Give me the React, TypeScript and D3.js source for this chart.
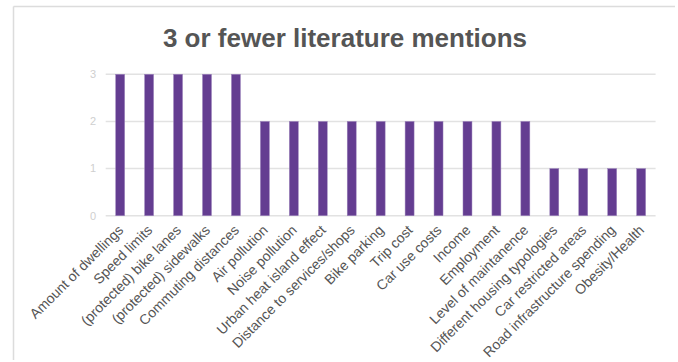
import React from "react";
import * as d3 from "d3";

const categories = [
  "Amount of dwellings",
  "Speed limits",
  "(protected) bike lanes",
  "(protected) sidewalks",
  "Commuting distances",
  "Air pollution",
  "Noise pollution",
  "Urban heat island effect",
  "Distance to services/shops",
  "Bike parking",
  "Trip cost",
  "Car use costs",
  "Income",
  "Employment",
  "Level of maintanence",
  "Different housing typologies",
  "Car restricted areas",
  "Road infrastructure spending",
  "Obesity/Health",
];
const values = [3, 3, 3, 3, 3, 2, 2, 2, 2, 2, 2, 2, 2, 2, 2, 1, 1, 1, 1];
const yTicks = [0, 1, 2, 3];
const title = "3 or fewer literature mentions";

const W = 678;
const H = 362;
const plot = { left: 105.7, right: 655.6, top: 74.3, bottom: 215.7 };

export default function App() {
  const x = d3
    .scaleBand<string>()
    .domain(categories)
    .range([plot.left, plot.right])
    .paddingInner(0.69)
    .paddingOuter(0.345);
  const y = d3.scaleLinear().domain([0, 3]).range([plot.bottom, plot.top]);
  const font = "'Liberation Sans', Arial, Helvetica, sans-serif";
  return (
    <svg
      width={W}
      height={H}
      style={{ position: "absolute", left: 0, top: 0, background: "#fff" }}
      fontFamily={font}
    >
      <rect x={0} y={0} width={W} height={H} fill="#fff" />
      <line x1={13.5} x2={675} y1={6.5} y2={6.5} stroke="#dcdcdc" strokeWidth={1.5} />
      <line x1={13.5} x2={13.5} y1={6.5} y2={360} stroke="#dcdcdc" strokeWidth={1.5} />
      <text
        x={345}
        y={47}
        textAnchor="middle"
        fontSize={26}
        fontWeight="bold"
        fill="#555555"
      >
        {title}
      </text>
      {yTicks.map((t) => (
        <g key={t}>
          <line
            x1={plot.left}
            x2={plot.right}
            y1={y(t)}
            y2={y(t)}
            stroke="#e2e2e2"
            strokeWidth={1.5}
          />
          <text
            x={93}
            y={y(t)}
            dy="0.35em"
            textAnchor="middle"
            fontSize={11}
            fill="#cfcfcf"
          >
            {t}
          </text>
        </g>
      ))}
      {categories.map((c, i) => (
        <rect
          key={c}
          x={x(c)}
          y={y(values[i])}
          width={x.bandwidth()}
          height={y(0) - y(values[i])}
          fill="#643d91"
          stroke="#9b84bb"
          strokeWidth={0.5}
        />
      ))}
      {categories.map((c) => {
        const cx = (x(c) as number) + x.bandwidth() / 2;
        return (
          <text
            key={c}
            transform={`translate(${cx + 4},${231}) rotate(-45)`}
            textAnchor="end"
            fontSize={14}
            fill="#555555"
          >
            {c}
          </text>
        );
      })}
    </svg>
  );
}
